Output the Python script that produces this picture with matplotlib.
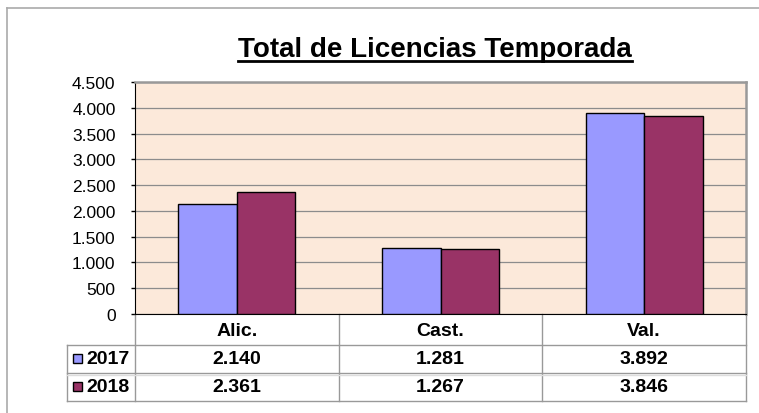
import matplotlib.pyplot as plt
from matplotlib.lines import Line2D
from matplotlib.patches import Rectangle
import numpy as np

categories = ["Alic.", "Cast.", "Val."]
years = ["2017", "2018"]
values_2017 = [2140, 1281, 3892]
values_2018 = [2361, 1267, 3846]
y_ticks = [0, 500, 1000, 1500, 2000, 2500, 3000, 3500, 4000, 4500]
colors = ["#9999FF", "#993366"]

W, H = 759, 414
plt.rcParams['font.family'] = ['Liberation Sans', 'DejaVu Sans']


def fx(px):
    return px / W


def fy(py):
    return 1 - py / H


def fmt(v):
    return f"{v:,}".replace(",", ".")


fig = plt.figure(figsize=(W / 100, H / 100), dpi=100)

# outer chart frame (left and top edges visible)
fig.add_artist(Line2D([fx(7), fx(7)], [fy(9), 0], transform=fig.transFigure, color="#aaaaaa", lw=1.2))
fig.add_artist(Line2D([fx(7), 1], [fy(9), fy(9)], transform=fig.transFigure, color="#aaaaaa", lw=1.2))

ax = fig.add_axes([fx(135), fy(315), fx(746) - fx(135), fy(83) - fy(315)])
ax.set_facecolor("#FCE9DA")

x = np.arange(len(categories))
bw = 0.287
ax.bar(x - bw / 2, values_2017, bw, color=colors[0], edgecolor="black", lw=1, zorder=3)
ax.bar(x + bw / 2, values_2018, bw, color=colors[1], edgecolor="black", lw=1, zorder=3)

ax.set_xlim(-0.5, len(categories) - 0.5)
ax.set_ylim(0, 4500)
ax.set_yticks(y_ticks)
ax.set_yticklabels([fmt(v) for v in y_ticks], fontsize=12.5)
ax.set_xticks([])
ax.yaxis.grid(True, color="#8c8c8c", lw=0.9, zorder=0)
ax.tick_params(axis="y", length=3, width=1, pad=11, colors="black")
for s in ["top", "right"]:
    ax.spines[s].set_color("#999999")
    ax.spines[s].set_linewidth(1.8)
ax.spines["left"].set_color("black")
ax.spines["bottom"].set_color("black")

# data table under the plot
tr = ax.get_xaxis_transform()
ah = 315 - 83


def ay(py):
    return (315 - py) / ah


col_edges = [-0.5, 0.5, 1.5, 2.5]
leg_left = (67 - 135) / ((746 - 135) / 3) - 0.5
line_kw = dict(transform=tr, color="#999999", lw=1, clip_on=False)
for ce in col_edges:
    ax.add_line(Line2D([ce, ce], [0, ay(402)], **line_kw))
ax.add_line(Line2D([leg_left, leg_left], [ay(346), ay(402)], **line_kw))
for py in [346, 374, 402]:
    ax.add_line(Line2D([leg_left, 2.5], [ay(py), ay(py)], **line_kw))
ax.add_line(Line2D([leg_left, 2.5], [ay(376), ay(376)], transform=tr, color="#dddddd", lw=1, clip_on=False))

tfs = 14
for i, c in enumerate(categories):
    ax.text(i, ay(331), c, transform=tr, ha="center", va="center", fontsize=tfs, fontweight="bold")
    ax.text(i, ay(360), fmt(values_2017[i]), transform=tr, ha="center", va="center", fontsize=tfs, fontweight="bold")
    ax.text(i, ay(388), fmt(values_2018[i]), transform=tr, ha="center", va="center", fontsize=tfs, fontweight="bold")

for j, (yr, col) in enumerate(zip(years, colors)):
    yc = 360 + j * 28
    fig.add_artist(Rectangle((fx(73), fy(yc + 4)), fx(9), fy(yc - 5) - fy(yc + 4),
                             transform=fig.transFigure, facecolor=col, edgecolor="black", lw=1))
    fig.text(fx(86), fy(yc), yr, ha="left", va="center", fontsize=tfs, fontweight="bold")

# title with underline
title = fig.text(fx(435), fy(57), "Total de Licencias Temporada", ha="center", va="baseline",
                 fontsize=20, fontweight="bold")
fig.canvas.draw()
bb = title.get_window_extent(fig.canvas.get_renderer())
fig.add_artist(Line2D([bb.x0 / W, bb.x1 / W], [fy(62), fy(62)], transform=fig.transFigure,
                      color="black", lw=2))

fig.savefig("out.png", dpi=100)
